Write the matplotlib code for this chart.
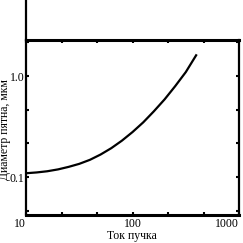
import matplotlib
matplotlib.use("Agg")
import matplotlib.pyplot as plt
from matplotlib.lines import Line2D
from matplotlib.ticker import FixedLocator, NullFormatter

# beam current vs spot diameter
current = [10, 12.6, 15.8, 20, 25.1, 31.6, 39.8, 50.1, 63.1, 79.4, 100, 126, 158, 200, 251, 316, 400]
diameter = [0.109, 0.111, 0.114, 0.119, 0.126, 0.135, 0.148, 0.167, 0.193, 0.229,
            0.279, 0.348, 0.446, 0.588, 0.793, 1.095, 1.64]

x_major = [10, 100, 1000]
x_major_labels = ["10", "100", "1000"]
y_major = [0.1, 1.0]
y_major_labels = ["0.1", "1.0"]

plt.rcParams['font.family'] = ['Liberation Serif', 'DejaVu Serif']

fig = plt.figure(figsize=(2.43, 2.43), dpi=100)
ax = fig.add_axes([0.107, 0.115, 0.877, 0.72])

ax.plot(current, diameter, color='black', lw=1.6,
        solid_joinstyle='round', solid_capstyle='butt')

ax.set_xscale('log')
ax.set_yscale('log')
ax.set_xlim(10, 1000)
ax.set_ylim(0.042, 2.27)

# ticks every third of a decade, labels only on decades
ax.xaxis.set_major_locator(FixedLocator(x_major))
ax.set_xticklabels(x_major_labels)
ax.xaxis.set_minor_locator(FixedLocator([10 ** (k / 3) for k in range(3, 10) if k % 3]))
ax.xaxis.set_minor_formatter(NullFormatter())
ax.yaxis.set_major_locator(FixedLocator(y_major))
ax.set_yticklabels(y_major_labels)
ax.yaxis.set_minor_locator(FixedLocator([10 ** (k / 3) for k in range(-4, 2) if k % 3]))
ax.yaxis.set_minor_formatter(NullFormatter())

ax.tick_params(which='both', direction='in', length=2.5, width=1.5,
               top=True, right=True, labelsize=8.5, pad=2)
ax.tick_params(axis='y', pad=1)

xl = ax.get_xticklabels()
xl[0].set_ha('right')
xl[2].set_ha('right')

for side in ['top', 'bottom']:
    ax.spines[side].set_linewidth(2.2)
for side in ['left', 'right']:
    ax.spines[side].set_linewidth(1.6)

# left spine runs on up to the top edge
fig.add_artist(Line2D([0.107, 0.107], [0.835, 1.0], color='black', lw=1.6,
                      transform=fig.transFigure))

fig.text(0.545, 0.028, "Ток пучка", ha='center', va='center', fontsize=8.5)
fig.text(0.022, 0.465, "Диаметр пятна, мкм", ha='center', va='center',
         rotation=90, fontsize=8.5)

fig.savefig("out.png", dpi=100)
